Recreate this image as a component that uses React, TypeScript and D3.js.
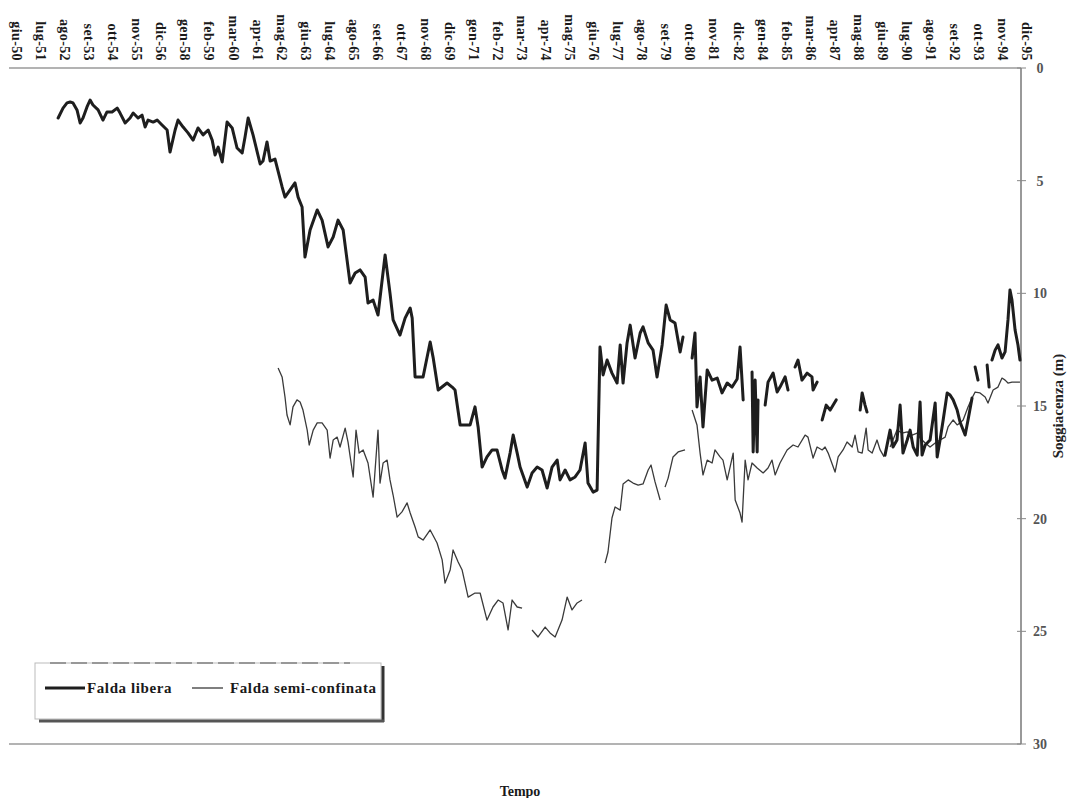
import React from 'react'
import { scaleLinear, line } from 'd3'

type Pt = [number, number] | null

// tick labels on the top (time) axis, one every 13 months starting giu-50
const xLabels = [
  'giu-50', 'lug-51', 'ago-52', 'set-53', 'ott-54', 'nov-55', 'dic-56', 'gen-58', 'feb-59', 'mar-60',
  'apr-61', 'mag-62', 'giu-63', 'lug-64', 'ago-65', 'set-66', 'ott-67', 'nov-68', 'dic-69', 'gen-71',
  'feb-72', 'mar-73', 'apr-74', 'mag-75', 'giu-76', 'lug-77', 'ago-78', 'set-79', 'ott-80', 'nov-81',
  'dic-82', 'gen-84', 'feb-85', 'mar-86', 'apr-87', 'mag-88', 'giu-89', 'lug-90', 'ago-91', 'set-92',
  'ott-93', 'nov-94', 'dic-95',
]
const yTicks = [0, 5, 10, 15, 20, 25, 30]

// [decimal year, depth in m]; null = gap in the record
const faldaLibera: Pt[] = [
  [1952.27, 2.22], [1952.49, 1.78], [1952.67, 1.55], [1952.81, 1.51], [1952.94, 1.55], [1953.12, 1.86],
  [1953.26, 2.44], [1953.39, 2.22], [1953.57, 1.73], [1953.71, 1.42], [1953.84, 1.64], [1954.07, 1.86],
  [1954.29, 2.31], [1954.47, 1.95], [1954.7, 1.95], [1954.93, 1.78], [1955.06, 2.0], [1955.29, 2.44],
  [1955.51, 2.22], [1955.65, 2.0], [1955.87, 2.22], [1956.05, 2.09], [1956.19, 2.62], [1956.32, 2.31],
  [1956.55, 2.4], [1956.73, 2.31], [1956.95, 2.53], [1957.18, 2.75], [1957.31, 3.73], [1957.54, 2.75],
  [1957.67, 2.31], [1957.9, 2.62], [1958.12, 2.88], [1958.35, 3.2], [1958.57, 2.66], [1958.8, 2.97],
  [1959.03, 2.75], [1959.21, 3.2], [1959.34, 3.86], [1959.48, 3.51], [1959.66, 4.17], [1959.88, 2.4],
  [1960.11, 2.66], [1960.33, 3.55], [1960.56, 3.77], [1960.69, 3.06], [1960.83, 2.22], [1961.05, 2.97],
  [1961.37, 4.26], [1961.5, 4.13], [1961.68, 3.28], [1961.82, 4.13], [1962.04, 4.04], [1962.36, 5.28],
  [1962.49, 5.73], [1962.72, 5.41], [1962.94, 5.1], [1963.08, 5.73], [1963.26, 6.17], [1963.39, 8.39],
  [1963.62, 7.19], [1963.94, 6.3], [1964.16, 6.75], [1964.43, 7.94], [1964.66, 7.5], [1964.88, 6.75],
  [1965.11, 7.19], [1965.42, 9.54], [1965.65, 9.1], [1965.87, 8.96], [1966.1, 9.28], [1966.23, 10.43],
  [1966.46, 10.3], [1966.68, 10.96], [1967.0, 8.3], [1967.22, 9.99], [1967.36, 11.18], [1967.67, 11.85],
  [1967.9, 11.1], [1968.13, 10.65], [1968.22, 11.1], [1968.35, 13.71], [1968.71, 13.71], [1969.03, 12.16],
  [1969.16, 12.83], [1969.39, 14.29], [1969.79, 13.98], [1970.02, 14.16], [1970.15, 14.29], [1970.38, 15.84],
  [1970.83, 15.84], [1971.05, 15.04], [1971.19, 15.93], [1971.37, 17.71], [1971.59, 17.26], [1971.82, 16.95],
  [1972.04, 16.95], [1972.27, 17.84], [1972.4, 18.2], [1972.63, 17.09], [1972.77, 16.29], [1972.95, 17.09],
  [1973.08, 17.71], [1973.4, 18.6], [1973.62, 17.97], [1973.85, 17.71], [1974.07, 17.84], [1974.3, 18.64],
  [1974.52, 17.71], [1974.75, 17.4], [1974.88, 18.28], [1975.11, 17.84], [1975.33, 18.28], [1975.56, 18.15],
  [1975.78, 17.84], [1976.01, 16.64], [1976.14, 18.42], [1976.37, 18.82], [1976.55, 18.73], [1976.68, 12.38],
  [1976.82, 13.62], [1977.0, 12.96], [1977.22, 13.54], [1977.45, 13.98], [1977.59, 12.29], [1977.72, 13.98],
  [1977.9, 12.2], [1978.04, 11.41], [1978.26, 12.87], [1978.49, 11.76], [1978.62, 11.49], [1978.85, 12.2],
  [1979.07, 12.52], [1979.25, 13.71], [1979.48, 12.29], [1979.66, 10.52], [1979.84, 11.18], [1980.06, 11.32],
  [1980.29, 12.6], [1980.42, 11.94],
  null,
  [1980.83, 12.87], [1980.96, 11.76], [1981.05, 15.04], [1981.19, 13.71], [1981.32, 15.93], [1981.51, 13.4],
  [1981.73, 13.85], [1981.96, 13.76], [1982.18, 14.42], [1982.41, 13.98], [1982.63, 14.16], [1982.86, 13.8],
  [1982.99, 12.38], [1983.13, 14.73],
  null,
  [1983.53, 13.49], [1983.58, 17.04], [1983.67, 13.85], [1983.76, 17.04], [1983.8, 14.73],
  null,
  [1984.12, 14.96], [1984.25, 13.94], [1984.48, 13.54], [1984.66, 14.38], [1984.79, 14.16], [1985.02, 13.71],
  [1985.15, 14.29],
  null,
  [1985.47, 13.27], [1985.6, 12.96], [1985.78, 13.85], [1986.01, 13.54], [1986.23, 13.71], [1986.28, 14.29],
  [1986.46, 13.94],
  null,
  [1986.69, 15.62], [1986.87, 14.96], [1987.05, 15.18], [1987.32, 14.73],
  null,
  [1988.4, 15.18], [1988.49, 14.42], [1988.62, 14.96], [1988.71, 15.27],
  null,
  [1989.52, 17.18], [1989.75, 16.07], [1989.88, 16.82], [1990.06, 16.51], [1990.2, 14.96], [1990.33, 17.09],
  [1990.52, 16.51], [1990.65, 16.07], [1990.79, 16.82], [1990.97, 17.18], [1991.1, 14.82], [1991.19, 17.18],
  [1991.33, 16.73], [1991.55, 16.51], [1991.78, 14.87], [1991.87, 17.26], [1992.0, 16.51], [1992.14, 15.62],
  [1992.32, 14.42], [1992.45, 14.51], [1992.59, 14.73], [1992.77, 15.18], [1992.9, 15.71], [1993.13, 16.29],
  [1993.26, 15.62], [1993.44, 14.65],
  null,
  [1993.58, 13.27], [1993.71, 13.85],
  null,
  [1994.12, 13.18], [1994.21, 14.16],
  null,
  [1994.34, 12.96], [1994.48, 12.52], [1994.61, 12.29], [1994.79, 12.87], [1994.93, 12.6], [1995.06, 11.18],
  [1995.15, 9.85], [1995.24, 10.3], [1995.38, 11.63], [1995.51, 12.29], [1995.6, 12.96],
]

const faldaSemiConfinata: Pt[] = [
  [1962.18, 13.31], [1962.36, 13.71], [1962.49, 14.6], [1962.58, 15.4], [1962.72, 15.84], [1962.85, 15.04],
  [1963.03, 14.73], [1963.17, 14.82], [1963.3, 15.18], [1963.49, 16.07], [1963.58, 16.73], [1963.76, 16.07],
  [1963.94, 15.75], [1964.16, 15.75], [1964.39, 16.07], [1964.52, 17.31], [1964.66, 16.51], [1964.84, 16.38],
  [1964.97, 16.82], [1965.2, 15.98], [1965.33, 16.6], [1965.56, 18.15], [1965.69, 16.07], [1965.83, 17.09],
  [1966.01, 16.95], [1966.23, 17.53], [1966.46, 19.04], [1966.68, 16.07], [1966.77, 18.42], [1966.91, 17.53],
  [1967.09, 17.4], [1967.22, 18.28], [1967.36, 18.95], [1967.54, 19.93], [1967.76, 19.7], [1967.99, 19.3],
  [1968.13, 19.75], [1968.35, 20.37], [1968.49, 20.81], [1968.71, 20.95], [1969.03, 20.5], [1969.34, 21.08],
  [1969.57, 21.83], [1969.7, 22.86], [1969.93, 22.28], [1970.06, 21.39], [1970.29, 21.92], [1970.47, 22.28],
  [1970.74, 23.48], [1971.05, 23.3], [1971.28, 23.3], [1971.59, 24.5], [1971.86, 23.92], [1972.09, 23.61],
  [1972.31, 23.74], [1972.54, 24.94], [1972.72, 23.61], [1972.95, 23.92], [1973.17, 23.97],
  null,
  [1973.62, 24.94], [1973.89, 25.25], [1974.21, 24.81], [1974.43, 25.07], [1974.66, 25.25], [1974.97, 24.5],
  [1975.2, 23.48], [1975.42, 24.05], [1975.65, 23.74], [1975.87, 23.61],
  null,
  [1976.91, 21.97], [1977.04, 21.48], [1977.22, 19.97], [1977.36, 19.48], [1977.59, 19.62], [1977.72, 18.46],
  [1977.95, 18.28], [1978.17, 18.42], [1978.4, 18.51], [1978.62, 18.46], [1978.85, 17.84], [1978.98, 17.62],
  [1979.16, 18.37], [1979.39, 19.17],
  null,
  [1979.61, 18.6], [1979.75, 18.2], [1979.97, 17.26], [1980.2, 17.04], [1980.51, 16.95],
  null,
  [1980.83, 15.18], [1981.05, 15.84], [1981.19, 17.09], [1981.32, 18.06], [1981.51, 17.4], [1981.73, 17.53],
  [1981.86, 16.95], [1982.09, 17.26], [1982.22, 17.4], [1982.41, 18.28], [1982.54, 17.71], [1982.68, 17.09],
  [1982.77, 19.17], [1982.99, 19.75], [1983.08, 20.15], [1983.22, 17.4], [1983.35, 18.28], [1983.53, 17.53],
  [1983.76, 17.75], [1984.03, 17.97], [1984.25, 17.75], [1984.43, 17.4], [1984.57, 18.06], [1984.79, 17.53],
  [1985.11, 16.95], [1985.38, 16.73], [1985.6, 16.82], [1985.92, 16.29], [1986.05, 16.38], [1986.28, 17.31],
  [1986.46, 16.82], [1986.69, 16.95], [1986.82, 16.82], [1986.96, 17.09], [1987.27, 17.93], [1987.41, 17.26],
  [1987.63, 16.95], [1987.81, 16.6], [1988.04, 16.82], [1988.17, 16.29], [1988.31, 17.04], [1988.49, 17.09],
  [1988.67, 15.98], [1988.76, 16.95], [1988.94, 17.09], [1989.16, 16.51], [1989.3, 16.95], [1989.48, 17.26],
  null,
  [1989.75, 16.82], [1990.06, 16.07], [1990.29, 16.2], [1990.52, 16.15], [1990.74, 16.29], [1990.97, 16.2],
  [1991.1, 16.42], [1991.33, 16.64], [1991.55, 16.82], [1991.78, 16.64], [1992.0, 16.51], [1992.23, 16.38],
  [1992.36, 15.93], [1992.59, 15.62], [1992.77, 15.84], [1992.9, 15.75], [1993.04, 15.62], [1993.26, 15.04],
  [1993.44, 14.65], [1993.58, 14.38], [1993.8, 14.42], [1994.03, 14.6], [1994.16, 14.87], [1994.39, 14.29],
  [1994.61, 14.16], [1994.79, 13.76], [1994.93, 13.85], [1995.06, 13.98], [1995.24, 13.94], [1995.47, 13.94],
  [1995.6, 13.94],
]

const font = '"Liberation Serif", "Times New Roman", serif'
const firstLabel = 1950 + 5 / 12

export default function App() {
  const width = 1071, height = 798

  const x = scaleLinear().domain([firstLabel, firstLabel + (xLabels.length - 1) * 13 / 12]).range([17, 1027])
  const y = scaleLinear().domain([0, 30]).range([68, 744])
  const plotLeft = 9, plotRight = 1021

  const path = line<Pt>()
    .defined((d) => d !== null)
    .x((d) => x(d![0]))
    .y((d) => y(d![1]))

  return (
    <svg width={width} height={height} style={{ position: 'absolute', left: 0, top: 0, background: '#fff' }}
      fontFamily={font} fontWeight="bold">
      {/* plot frame */}
      <line x1={plotLeft} x2={plotRight} y1={y(0)} y2={y(0)} stroke="#9a9a9a" strokeWidth={1.5} />
      <line x1={plotLeft} x2={plotRight} y1={y(30)} y2={y(30)} stroke="#9a9a9a" strokeWidth={1.5} />
      <line x1={plotRight} x2={plotRight} y1={y(0)} y2={y(30)} stroke="#777" strokeWidth={1.5} />

      {/* right axis */}
      {yTicks.map((t) => (
        <g key={t}>
          <line x1={plotRight - 4} x2={plotRight + 5} y1={y(t)} y2={y(t)} stroke="#888" strokeWidth={1} />
          <text x={1040} y={y(t)} dy="0.35em" textAnchor="middle" fontSize={14} fill="#555">{t}</text>
        </g>
      ))}
      <text transform={`translate(1063,${y(15)}) rotate(-90)`} textAnchor="middle" fontSize={15} fill="#222">
        Soggiacenza (m)
      </text>

      {/* top time labels */}
      {xLabels.map((lab, i) => (
        <text key={lab} transform={`translate(${x(firstLabel + i * 13 / 12)},61) rotate(90)`}
          textAnchor="end" dy="0.35em" fontSize={14} letterSpacing={0.4} fill="#1a1a1a">{lab}</text>
      ))}

      {/* series */}
      <path d={path(faldaSemiConfinata) ?? ''} fill="none" stroke="#3a3a3a" strokeWidth={1.3} strokeLinejoin="round" />
      <path d={path(faldaLibera) ?? ''} fill="none" stroke="#1e1e1e" strokeWidth={3} strokeLinejoin="round" strokeLinecap="round" />

      {/* legend */}
      <g>
        <rect x={35} y={663} width={346} height={56} fill="#fff" stroke="#bbb" strokeWidth={1} />
        <line x1={50} x2={350} y1={663} y2={663} stroke="#555" strokeWidth={1.2} strokeDasharray="16 5" />
        <line x1={383} x2={383} y1={666} y2={722} stroke="#333" strokeWidth={3} />
        <line x1={39} x2={384} y1={721} y2={721} stroke="#555" strokeWidth={3} />
        <line x1={45} x2={85} y1={688} y2={688} stroke="#1e1e1e" strokeWidth={3} />
        <text x={87} y={688} dy="0.35em" fontSize={15} letterSpacing={0.6} fill="#1a1a1a">Falda libera</text>
        <line x1={192} x2={223} y1={688} y2={688} stroke="#3a3a3a" strokeWidth={1.3} />
        <text x={230} y={688} dy="0.35em" fontSize={15} letterSpacing={0.6} fill="#1a1a1a">Falda semi-confinata</text>
      </g>

      <text x={520} y={796} textAnchor="middle" fontSize={14} fill="#1a1a1a">Tempo</text>
    </svg>
  )
}
